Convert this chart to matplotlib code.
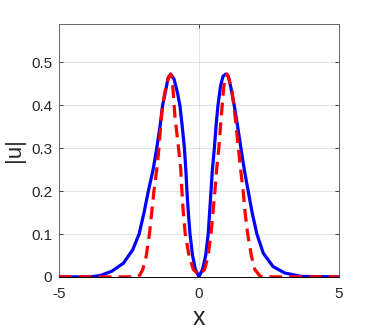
import numpy as np
import matplotlib.pyplot as plt

# values
x_blue = [-5.0, -3.9, -3.54, -3.12, -2.7, -2.37, -2.14, -1.96, -1.81, -1.64,
          -1.51, -1.39, -1.3, -1.18, -1.1, -1.01, -0.89, -0.77, -0.68, -0.6,
          -0.52, -0.47, -0.43, -0.38, -0.32, -0.23, -0.13, 0.0, 0.13, 0.24,
          0.33, 0.38, 0.43, 0.48, 0.55, 0.61, 0.68, 0.77, 0.86, 0.96, 1.05,
          1.13, 1.26, 1.38, 1.5, 1.62, 1.76, 1.9, 2.07, 2.3, 2.65, 3.07,
          3.67, 5.0]
u_blue = [0.0, 0.0, 0.003, 0.013, 0.032, 0.063, 0.1, 0.151, 0.2, 0.25,
          0.3, 0.352, 0.4, 0.438, 0.465, 0.473, 0.461, 0.43, 0.399, 0.352,
          0.3, 0.25, 0.2, 0.15, 0.1, 0.05, 0.018, 0.0, 0.018, 0.05,
          0.1, 0.15, 0.2, 0.25, 0.3, 0.352, 0.4, 0.445, 0.468, 0.473, 0.468,
          0.445, 0.4, 0.352, 0.3, 0.25, 0.2, 0.15, 0.1, 0.055, 0.024, 0.009,
          0.001, 0.0]

x_red = [-5.0, -2.2, -2.13, -2.01, -1.89, -1.77, -1.69, -1.61, -1.51, -1.43,
         -1.37, -1.3, -1.18, -1.08, -1.01, -0.96, -0.92, -0.86, -0.73, -0.65,
         -0.61, -0.56, -0.49, -0.35, -0.2, 0.0, 0.2, 0.32, 0.43, 0.5, 0.57,
         0.63, 0.71, 0.77, 0.83, 0.89, 0.95, 1.01, 1.07, 1.19, 1.29, 1.41,
         1.49, 1.58, 1.65, 1.74, 1.88, 2.0, 2.18, 2.3, 5.0]
u_red = [0.0, 0.0, 0.003, 0.017, 0.047, 0.1, 0.15, 0.2, 0.25, 0.3,
         0.352, 0.4, 0.445, 0.466, 0.473, 0.462, 0.43, 0.375, 0.3, 0.25,
         0.2, 0.15, 0.1, 0.047, 0.017, 0.005, 0.017, 0.047, 0.1, 0.15, 0.2,
         0.25, 0.3, 0.352, 0.4, 0.445, 0.466, 0.473, 0.462, 0.43, 0.375, 0.3,
         0.25, 0.2, 0.15, 0.1, 0.047, 0.017, 0.002, 0.0, 0.0]

axcol = (0.15, 0.15, 0.15)
plt.rcParams['font.family'] = ['Liberation Sans', 'DejaVu Sans']

fig = plt.figure(figsize=(3.74, 3.32), dpi=100)
ax = fig.add_axes([0.158, 0.166, 0.748, 0.762])

ax.plot(x_blue, u_blue, color='#0000ff', lw=2.3, zorder=3,
        solid_joinstyle='round')
ax.plot(x_red, u_red, color='#ff0000', lw=2.3, ls=(0, (4.0, 2.2)), zorder=4)

ax.set_xlim(-5, 5)
ax.set_ylim(0, 0.59)
ax.set_xticks([-5, 0, 5])
ax.set_xticklabels(['-5', '0', '5'])
ax.set_yticks([0, 0.1, 0.2, 0.3, 0.4, 0.5])
ax.set_yticklabels(['0', '0.1', '0.2', '0.3', '0.4', '0.5'])

ax.grid(True, color=axcol, alpha=0.12, lw=0.8)
ax.set_axisbelow(True)
ax.tick_params(direction='in', length=3, width=0.6, colors=axcol,
               labelsize=11, top=True, right=True)
ax.tick_params(axis='x', pad=7)
ax.tick_params(axis='y', pad=5)
for s in ax.spines.values():
    s.set_color((0.4, 0.4, 0.4))
    s.set_linewidth(0.7)
ax.spines['bottom'].set_color('black')

ax.set_xlabel('x', fontsize=18, color=axcol, labelpad=4)
ax.set_ylabel('|u|', fontsize=16, color=axcol, labelpad=4)

fig.savefig('out.png', dpi=100)
